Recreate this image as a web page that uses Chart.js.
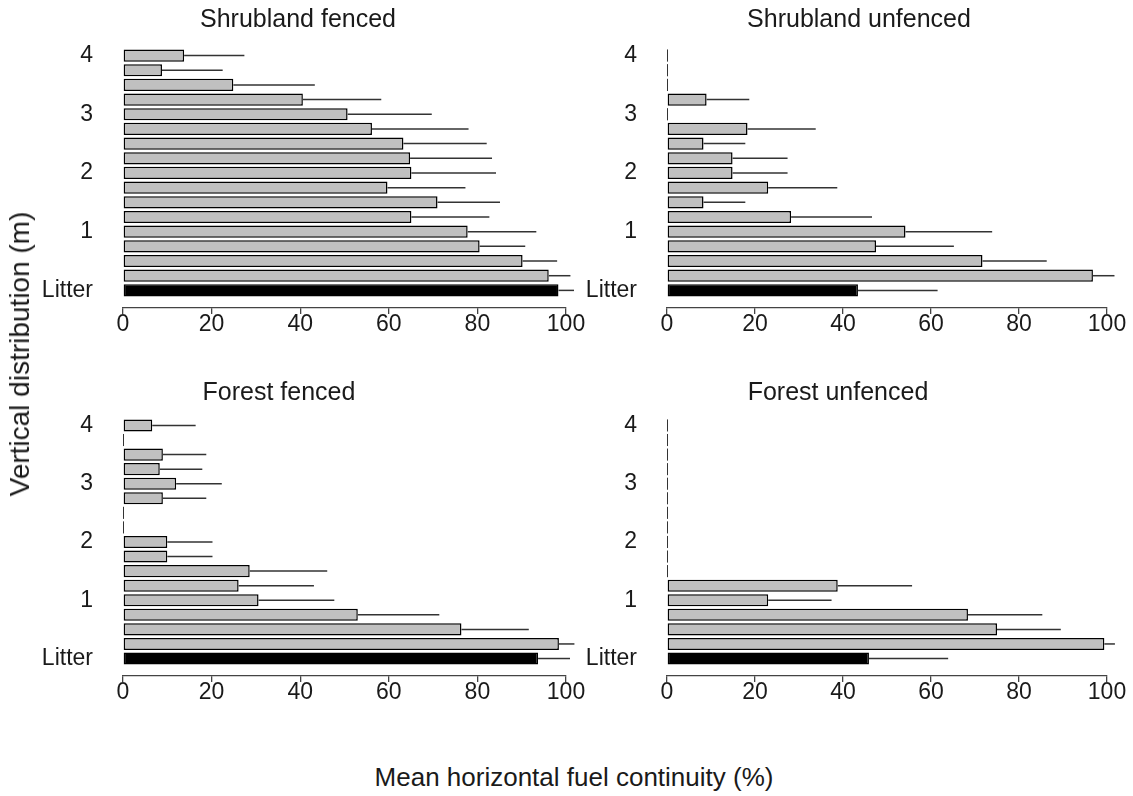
<!DOCTYPE html>
<html>
<head>
<meta charset="utf-8">
<script src="https://cdn.jsdelivr.net/npm/chart.js@4.4.1/dist/chart.umd.min.js"></script>
<style>
  html, body { margin:0; padding:0; background:#fff; }
  body { width:1133px; height:796px; position:relative; overflow:hidden; font-family:"Liberation Sans", Arial, sans-serif; }
  canvas { position:absolute; }
  .lab { position:absolute; color:#1a1a1a; white-space:nowrap; font-family:"Liberation Sans", Arial, sans-serif; }
</style>
</head>
<body>
<canvas id="p1"></canvas>
<canvas id="p2"></canvas>
<canvas id="p3"></canvas>
<canvas id="p4"></canvas>
<div class="lab" id="ylab" style="font-size:28px; left:20px; top:354px; transform:translate(-50%,-50%) rotate(-90deg);">Vertical distribution (m)</div>
<div class="lab" id="xlab" style="font-size:26px; left:574px; top:777px; transform:translate(-50%,-50%);">Mean horizontal fuel continuity (%)</div>
<script>
// ---- data (heights from litter upward) ----
const heights = [0, 0.25, 0.5, 0.75, 1, 1.25, 1.5, 1.75, 2, 2.25, 2.5, 2.75, 3, 3.25, 3.5, 3.75, 4];
const heightTicks = [0, 1, 2, 3, 4];
const heightTickLabels = ['Litter', '1', '2', '3', '4'];
const xTicks = [0, 20, 40, 60, 80, 100];

const panelTitles = ['Shrubland fenced', 'Shrubland unfenced', 'Forest fenced', 'Forest unfenced'];

const shrubFencedMean  = [98.3, 96.1, 90.2, 80.5, 77.8, 65.1, 71.0, 59.7, 65.1, 64.8, 63.3, 56.2, 50.7, 40.6, 24.9, 8.8, 13.8];
const shrubFencedUpper = [101.8, 101.0, 98.0, 90.8, 93.3, 82.7, 85.1, 77.3, 84.2, 83.3, 82.1, 78.0, 69.7, 58.3, 43.3, 22.5, 27.4];

const shrubUnfencedMean  = [43.4, 96.8, 71.7, 47.5, 54.2, 28.2, 8.3, 23.0, 14.9, 14.9, 8.3, 18.3, 0, 9.0, 0, 0, 0];
const shrubUnfencedUpper = [61.5, 101.7, 86.3, 65.2, 73.9, 46.6, 17.8, 38.7, 27.4, 27.4, 17.8, 33.8, 0, 18.7, 0, 0, 0];

const forestFencedMean  = [93.7, 98.4, 76.4, 53.0, 30.6, 26.1, 28.6, 10.0, 10.0, 0, 0, 9.0, 12.0, 8.3, 9.0, 0, 6.6];
const forestFencedUpper = [100.9, 101.9, 91.6, 71.4, 47.7, 43.1, 46.1, 20.2, 20.2, 0, 0, 18.8, 22.3, 17.9, 18.8, 0, 16.4];

const forestUnfencedMean  = [45.9, 99.4, 75.0, 68.4, 23.0, 38.8, 0, 0, 0, 0, 0, 0, 0, 0, 0, 0, 0];
const forestUnfencedUpper = [63.9, 101.8, 89.5, 85.3, 37.4, 55.7, 0, 0, 0, 0, 0, 0, 0, 0, 0, 0, 0];

const FONT = '"Liberation Sans", Arial, sans-serif';
const BAR_GREY = '#c0c0c0';
const LITTER = '#000000';

// error bars (mean -> mean+SE) and zero-width bar outlines
const errorBarPlugin = {
  id: 'errorBars',
  afterDatasetsDraw(chart) {
    const ctx = chart.ctx;
    const xs = chart.scales.x;
    const ds = chart.data.datasets[0];
    const meta = chart.getDatasetMeta(0);
    ctx.save();
    meta.data.forEach((bar, i) => {
      const v = ds.data[i].x;
      const p = bar.getProps(['x', 'y', 'height'], true);
      if (v === 0) {
        const x0 = Math.round(xs.getPixelForValue(0)) + 0.5;
        ctx.strokeStyle = '#333';
        ctx.lineWidth = 1;
        ctx.beginPath();
        ctx.moveTo(x0, p.y - p.height / 2);
        ctx.lineTo(x0, p.y + p.height / 2);
        ctx.stroke();
      } else {
        ctx.strokeStyle = '#333';
        ctx.lineWidth = 1.5;
        ctx.beginPath();
        ctx.moveTo(p.x, p.y);
        ctx.lineTo(xs.getPixelForValue(ds.errorEnd[i]), p.y);
        ctx.stroke();
      }
    });
    ctx.restore();
  }
};

// layout of each panel (absolute pixels)
const panels = [
  { id: 'p1', title: panelTitles[0], mean: shrubFencedMean, upper: shrubFencedUpper,
    left: 0, top: 0, width: 600, height: 358, padL: 30, padR: 34, yW: 93, rW: 0, titleTop: 2, titleBottom: 9 },
  { id: 'p2', title: panelTitles[1], mean: shrubUnfencedMean, upper: shrubUnfencedUpper,
    left: 560, top: 0, width: 583, height: 358, padL: 15, padR: 0, yW: 92, rW: 36, titleTop: 2, titleBottom: 9 },
  { id: 'p3', title: panelTitles[2], mean: forestFencedMean, upper: forestFencedUpper,
    left: -20, top: 370, width: 620, height: 356, padL: 12, padR: 34, yW: 131, rW: 0, titleTop: 5, titleBottom: 6 },
  { id: 'p4', title: panelTitles[3], mean: forestUnfencedMean, upper: forestUnfencedUpper,
    left: 540, top: 370, width: 593, height: 356, padL: 29, padR: 26, yW: 98, rW: 0, titleTop: 5, titleBottom: 6 }
];

panels.forEach(pn => {
  const cv = document.getElementById(pn.id);
  cv.width = pn.width;
  cv.height = pn.height;
  cv.style.left = pn.left + 'px';
  cv.style.top = pn.top + 'px';

  const points = heights.map((h, i) => ({ x: pn.mean[i], y: h }));
  const colors = heights.map(h => h === 0 ? LITTER : BAR_GREY);

  const scales = {
    x: {
      type: 'linear',
      position: 'bottom',
      min: 0,
      max: 100,
      offset: false,
      afterBuildTicks: s => { s.ticks = xTicks.map(v => ({ value: v })); },
      afterFit: s => { s.height = 50; },
      border: { display: true, color: '#444', width: 1.3 },
      grid: { display: true, offset: false, drawOnChartArea: false, drawTicks: true, tickLength: 6, color: '#444', lineWidth: 1.3 },
      ticks: { color: '#1a1a1a', padding: -1, maxRotation: 0, autoSkip: false,
               font: { family: FONT, size: 23, lineHeight: 1.0 } }
    },
    y: {
      type: 'linear',
      position: 'left',
      min: -0.3,
      max: 4.2,
      offset: false,
      afterBuildTicks: s => { s.ticks = heightTicks.map(v => ({ value: v })); },
      afterFit: s => { s.width = pn.yW; },
      border: { display: false },
      grid: { display: false, offset: false, drawTicks: false },
      ticks: { color: '#1a1a1a', padding: 30, autoSkip: false,
               font: { family: FONT, size: 23 },
               callback: (v, i) => heightTickLabels[i] }
    }
  };
  if (pn.rW > 0) {
    // empty spacer box on the right so the title can be placed like the reference
    scales.spacer = {
      type: 'linear', position: 'right', display: true, offset: false,
      afterFit: s => { s.width = pn.rW; },
      border: { display: false },
      grid: { display: false, drawTicks: false },
      ticks: { display: false }
    };
  }

  new Chart(cv, {
    type: 'bar',
    data: {
      datasets: [{
        data: points,
        errorEnd: pn.upper,
        backgroundColor: colors,
        borderColor: '#000',
        borderWidth: 1.5,
        borderSkipped: false,
        barPercentage: 0.83,
        categoryPercentage: 1.0
      }]
    },
    options: {
      indexAxis: 'y',
      responsive: false,
      animation: false,
      devicePixelRatio: 1,
      layout: { padding: { left: pn.padL, right: pn.padR, top: 0, bottom: 0 } },
      plugins: {
        legend: { display: false },
        tooltip: { enabled: false },
        title: {
          display: true,
          text: pn.title,
          color: '#1a1a1a',
          font: { family: FONT, size: 25, weight: 'normal', lineHeight: 1.2 },
          padding: { top: pn.titleTop, bottom: pn.titleBottom }
        }
      },
      scales: scales
    },
    plugins: [errorBarPlugin]
  });
});
</script>
</body>
</html>
